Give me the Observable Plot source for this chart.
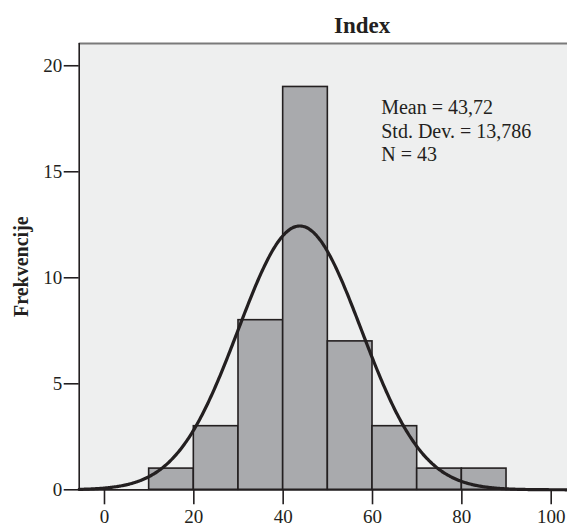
<!DOCTYPE html>
<html>
<head>
<meta charset="utf-8">
<script src="https://cdn.jsdelivr.net/npm/d3@7"></script>
<script src="https://cdn.jsdelivr.net/npm/@observablehq/plot@0.6"></script>
<style>
  html, body { margin: 0; padding: 0; background: #fff; }
  #chart svg { display: block; }
</style>
</head>
<body>
<div id="chart"></div>
<script>
// Histogram bins (lower, upper) and frequencies
const binStarts = [10, 20, 30, 40, 50, 60, 70, 80];
const binEnds   = [20, 30, 40, 50, 60, 70, 80, 90];
const counts    = [1, 3, 8, 19, 7, 3, 1, 1];
const xTicks = [0, 20, 40, 60, 80, 100];
const yTicks = [0, 5, 10, 15, 20];
// Summary statistics shown on the chart
const meanVal = 43.72;
const sdVal = 13.786;
const nVal = 43;
const binWidth = 10;
const title = "Index";
const yLabel = "Frekvencije";
const statsLines = ["Mean = 43,72", "Std. Dev. = 13,786", "N = 43"];

const xDomain = [-5.66, 103.65];
const yDomain = [0, 21.05];

const bars = binStarts.map((s, i) => ({x1: s, x2: binEnds[i], y: counts[i]}));

// Fitted normal curve from the displayed Mean, Std. Dev. and N
const curve = d3.range(xDomain[0], xDomain[1] + 0.25, 0.25).map(x => ({
  x,
  y: nVal * binWidth * Math.exp(-0.5 * ((x - meanVal) / sdVal) ** 2) / (sdVal * Math.sqrt(2 * Math.PI))
}));

const ink = "#231f20";
const font = "'Liberation Serif', 'Times New Roman', serif";

const chart = Plot.plot({
  width: 567,
  height: 527,
  marginLeft: 78.7,
  marginRight: 0,
  marginTop: 43,
  marginBottom: 37.7,
  style: {fontFamily: font, fontSize: "19px", color: ink, background: "#fff"},
  x: {domain: xDomain, ticks: xTicks, tickSize: 15, tickPadding: 4.5, label: null},
  y: {domain: yDomain, ticks: yTicks, tickSize: 15, tickPadding: 2, label: null},
  marks: [
    Plot.frame({fill: "#eeefef", stroke: null}),
    Plot.rectY(bars, {x1: "x1", x2: "x2", y: "y", fill: "#a9aaad", stroke: ink, strokeWidth: 1.6}),
    Plot.line(curve, {x: "x", y: "y", stroke: ink, strokeWidth: 3.2, curve: "basis"}),
    Plot.ruleY([yDomain[1]], {stroke: "#7a7a7a", strokeWidth: 2}),
    Plot.ruleX([xDomain[0]], {stroke: ink, strokeWidth: 1.6}),
    Plot.ruleY([0], {stroke: ink, strokeWidth: 1.8}),
    Plot.axisX({ticks: xTicks, tickSize: 15, tickPadding: 4.5, stroke: ink, strokeWidth: 1.6, fontSize: 19, label: null}),
    Plot.axisY({ticks: yTicks, tickSize: 15, tickPadding: 2, stroke: ink, strokeWidth: 1.6, fontSize: 19, label: null}),
    Plot.text([statsLines.join("\n")], {
      frameAnchor: "top-left", dx: 302, dy: 54,
      textAnchor: "start", lineAnchor: "top", lineHeight: 1.17,
      fontSize: 20, fill: ink
    }),
    Plot.text([title], {
      frameAnchor: "top-left", dx: 283, dy: -18,
      textAnchor: "middle", lineAnchor: "middle",
      fontSize: 23, fontWeight: "bold", fill: ink
    }),
    Plot.text([yLabel], {
      frameAnchor: "left", dx: -58, rotate: -90,
      textAnchor: "middle", lineAnchor: "middle",
      fontSize: 20, fontWeight: "bold", fill: ink
    })
  ]
});
document.getElementById("chart").appendChild(chart);
</script>
</body>
</html>
